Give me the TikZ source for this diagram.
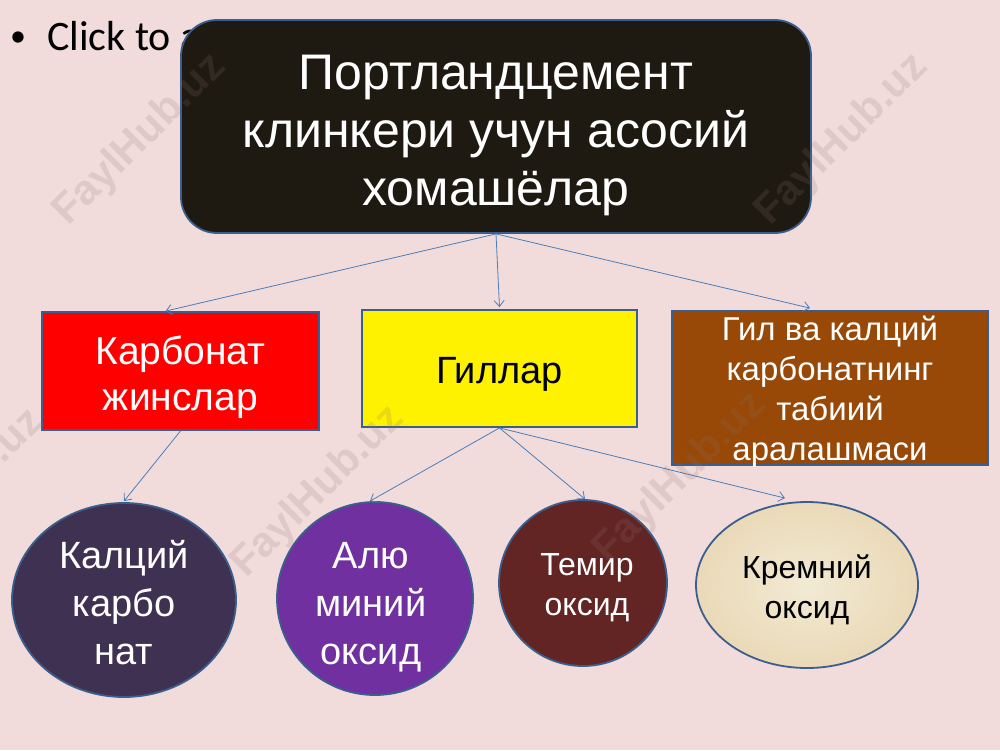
\documentclass[tikz,border=0pt]{standalone}
\usepackage{fontspec}
\setmainfont{Liberation Sans}
\newfontfamily\calib{Carlito}
\usetikzlibrary{shapes.geometric,arrows.meta,calc}
\definecolor{bg}{HTML}{F2DCDB}
\definecolor{edge}{HTML}{3A5F8E}
\definecolor{conn}{HTML}{4A7EBB}
\definecolor{titlebk}{HTML}{1E1A12}
\definecolor{brownbox}{HTML}{984807}
\definecolor{ellA}{HTML}{3F3151}
\definecolor{ellB}{HTML}{7030A0}
\definecolor{ellC}{HTML}{632523}
\definecolor{ellD}{HTML}{EDE1C2}
\definecolor{wmcol}{HTML}{8A6F6F}
\tikzset{
  boxnode/.style={draw=edge, line width=1.8pt, inner sep=0pt},
  ellnode/.style={ellipse, draw=edge, line width=1.8pt, inner sep=0pt},
  labeltext/.style={align=center, inner sep=0pt},
  conline/.style={draw=conn, line width=0.8pt, -{Straight Barb[length=6pt,width=10pt]}},
  wm/.style={text=wmcol, opacity=0.18, font=\bfseries\fontsize{42}{42}\selectfont, rotate=45}
}
\begin{document}
\begin{tikzpicture}[x=1pt,y=-1pt]
\fill[bg] (0,0) rectangle (1000,750);
\useasboundingbox (0,0) rectangle (1000,750);

% placeholder text
\node[anchor=base west, inner sep=0pt, font=\calib\fontsize{32}{40}\selectfont] (bul) at (10,46) {•};
\node[anchor=base west, inner sep=0pt, font=\calib\fontsize{42}{48}\selectfont] (click) at (47,50) {Click to add Text};

% title
\node[boxnode, fill=titlebk, rounded corners=36pt, minimum width=630, minimum height=213] (title) at (496,126.5) {};
\node[labeltext, text=white, font=\fontsize{50}{58}\selectfont] (titletxt) at (496,135) {Портландцемент\\клинкери учун асосий\\хомашёлар};

% second row
\node[boxnode, fill=red, minimum width=277, minimum height=118] (red) at (180.5,371) {};
\node[labeltext, text=white, font=\fontsize{39}{46}\selectfont] (redtxt) at (180.5,377) {Карбонат\\жинслар};

\node[boxnode, fill=yellow, minimum width=275, minimum height=117] (yel) at (499.5,368.5) {};
\node[labeltext, text=black, font=\fontsize{38}{46}\selectfont] (yeltxt) at (499.5,374) {Гиллар};

\node[boxnode, fill=brownbox, minimum width=316, minimum height=154] (brown) at (830,388) {};
\node[labeltext, text=white, font=\fontsize{33}{40}\selectfont] (browntxt) at (830,392) {Гил ва калций\\карбонатнинг\\табиий\\аралашмаси};

% ellipses
\node[ellnode, fill=ellA, minimum width=224, minimum height=194] (c1) at (124,600) {};
\node[labeltext, text=white, font=\fontsize{38}{48}\selectfont] (c1t) at (124,603) {Калций\\карбо\\нат};

\node[ellnode, fill=ellB, minimum width=196, minimum height=193] (c2) at (375,598.5) {};
\node[labeltext, text=white, font=\fontsize{38}{48}\selectfont] (c2t) at (371,607) {Алю\\миний\\оксид};

\node[ellnode, fill=ellC, minimum width=168, minimum height=166] (c3) at (583,583) {};
\node[labeltext, text=white, font=\fontsize{32}{40}\selectfont] (c3t) at (587,588) {Темир\\оксид};

\node[ellnode, inner color=ellD!70!white, outer color=ellD!92!brown, minimum width=222, minimum height=166] (c4) at (807,585) {};
\node[labeltext, text=black, font=\fontsize{32}{40}\selectfont] (c4t) at (807,590) {Кремний\\оксид};

% connectors
\draw[conline] (title.south) -- ($(red.north)+(-15,0)$);
\draw[conline] (title.south) -- ($(yel.north)+(0,-2)$);
\draw[conline] (title.south) -- ($(brown.north)+(-20,-2)$);
\draw[conline] (red.south) -- ($(c1.north)+(0,-1)$);
\draw[conline] (yel.south) -- ($(c2.north)+(-5,0)$);
\draw[conline] (yel.south) -- ($(c3.north)+(2,0)$);
\draw[conline] (yel.south) -- ($(c4.north)+(-22,-3)$);

% watermarks
\node[wm] (wm1) at (140,140) {FaylHub.uz};
\node[wm] (wm2) at (842,140) {FaylHub.uz};
\node[wm] (wm3) at (-42,495) {FaylHub.uz};
\node[wm] (wm4) at (318,492) {FaylHub.uz};
\node[wm] (wm5) at (680,478) {FaylHub.uz};
\end{tikzpicture}
\end{document}
